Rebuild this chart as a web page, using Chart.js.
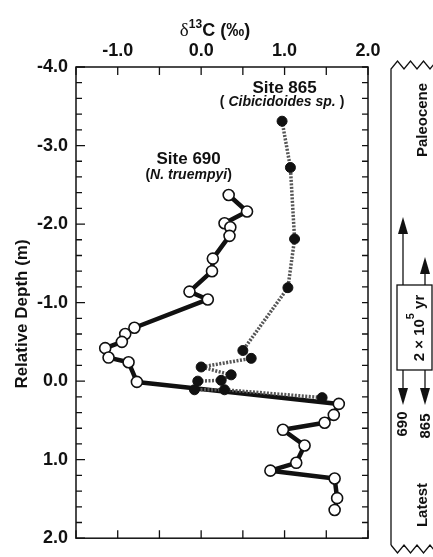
<!DOCTYPE html>
<html>
<head>
<meta charset="utf-8">
<script src="https://cdn.jsdelivr.net/npm/chart.js@4.4.1/dist/chart.umd.min.js"></script>
<style>
  html, body { margin: 0; padding: 0; background: #fff; }
  #wrap { width: 433px; height: 557px; position: relative; }
</style>
</head>
<body>
<div id="wrap"><canvas id="chart"></canvas></div>
<script>
// Site 690 (N. truempyi), open circles
const site690Carbon = [0.33, 0.55, 0.28, 0.35, 0.34, 0.14, 0.13, -0.14, 0.08, -0.80, -0.91, -0.95, -1.15,
  -1.11, -0.87, -0.77, 1.65, 1.59, 1.48, 0.98, 1.24, 1.14, 0.83, 1.60, 1.63, 1.60];
const site690Depth = [-2.37, -2.16, -2.01, -1.96, -1.85, -1.56, -1.40, -1.14, -1.04, -0.68, -0.60, -0.50, -0.42,
  -0.30, -0.24, 0.01, 0.29, 0.43, 0.53, 0.62, 0.82, 1.04, 1.14, 1.24, 1.49, 1.64];

// Site 865 (Cibicidoides sp.), filled circles
const site865Carbon = [0.97, 1.07, 1.12, 1.04, 0.50, 0.60, 0.00, 0.36, 0.24, -0.04, -0.08, 0.28, 1.45];
const site865Depth = [-3.31, -2.72, -1.81, -1.19, -0.39, -0.29, -0.18, -0.08, -0.01, 0.00, 0.11, 0.11, 0.21];

const xRange = [-1.5, 2.0];
const depthRange = [-4.0, 2.0];

const BOLD = '"Liberation Sans", Arial, Helvetica, sans-serif';

function pairs(xs, ys) {
    return xs.map((v, i) => ({ x: v, y: ys[i] }));
}

function isWhole(v) {
    return Math.abs(v - Math.round(v)) < 1e-6;
}

function vText(ctx, str, x, y, font) {
    ctx.save();
    ctx.translate(x, y);
    ctx.rotate(-Math.PI / 2);
    ctx.font = font;
    ctx.textAlign = 'center';
    ctx.textBaseline = 'middle';
    ctx.fillText(str, 0, 0);
    ctx.restore();
}

function arrow(ctx, x, y0, tip) {
    const dir = Math.sign(tip - y0);
    ctx.beginPath();
    ctx.moveTo(x, y0);
    ctx.lineTo(x, tip - dir * 12);
    ctx.stroke();
    ctx.beginPath();
    ctx.moveTo(x, tip);
    ctx.lineTo(x - 5, tip - dir * 17);
    ctx.lineTo(x + 5, tip - dir * 17);
    ctx.closePath();
    ctx.fill();
}

// draws text pieces one after another, centred on cx
function runText(ctx, parts, cx, cy) {
    let total = 0;
    parts.forEach(p => { ctx.font = p.font; total += ctx.measureText(p.text).width; });
    let x = cx - total / 2;
    ctx.textAlign = 'left';
    ctx.textBaseline = 'alphabetic';
    parts.forEach(p => {
        ctx.font = p.font;
        ctx.fillText(p.text, x, cy + (p.dy || 0));
        x += ctx.measureText(p.text).width;
    });
}

const frame = {
    id: 'frame',
    afterDraw(chart) {
        const { ctx, chartArea: a, scales: { x, y } } = chart;
        ctx.save();
        ctx.strokeStyle = '#111';
        ctx.fillStyle = '#111';
        ctx.lineWidth = 1.5;
        ctx.strokeRect(a.left, a.top, a.right - a.left, a.bottom - a.top);

        // inward tick marks
        ctx.lineWidth = 1.3;
        x.ticks.forEach(t => {
            const px = x.getPixelForValue(t.value);
            ctx.beginPath();
            ctx.moveTo(px, a.top); ctx.lineTo(px, a.top + 8);
            ctx.moveTo(px, a.bottom); ctx.lineTo(px, a.bottom - 8);
            ctx.stroke();
        });
        y.ticks.forEach(t => {
            const py = y.getPixelForValue(t.value);
            const len = isWhole(t.value) ? 9 : 6;
            ctx.beginPath();
            ctx.moveTo(a.left, py); ctx.lineTo(a.left + len, py);
            ctx.moveTo(a.right, py); ctx.lineTo(a.right - 6, py);
            ctx.stroke();
        });

        // axis titles
        runText(ctx, [
            { text: 'δ', font: '19px "Liberation Serif", serif' },
            { text: '13', font: 'bold 12px ' + BOLD, dy: -8 },
            { text: 'C (‰)', font: 'bold 18px ' + BOLD }
        ], 215, 36);
        vText(ctx, 'Relative Depth (m)', 22, 314, 'bold 17px ' + BOLD);

        // site labels
        ctx.textAlign = 'center';
        ctx.textBaseline = 'middle';
        ctx.font = 'bold 17px ' + BOLD;
        ctx.fillText('Site 865', x.getPixelForValue(1.0), y.getPixelForValue(-3.73));
        ctx.fillText('Site 690', x.getPixelForValue(-0.15), y.getPixelForValue(-2.82));
        runText(ctx, [
            { text: '( ', font: 'bold 14px ' + BOLD },
            { text: 'Cibicidoides sp.', font: 'italic bold 14px ' + BOLD },
            { text: ' )', font: 'bold 14px ' + BOLD }
        ], x.getPixelForValue(0.97), y.getPixelForValue(-3.5));
        runText(ctx, [
            { text: '(', font: 'bold 14px ' + BOLD },
            { text: 'N. truempyi', font: 'italic bold 14px ' + BOLD },
            { text: ')', font: 'bold 14px ' + BOLD }
        ], x.getPixelForValue(-0.15), y.getPixelForValue(-2.58));

        // stratigraphic column on the right
        const L = 391, R = 432, top = 69, bot = 545;
        ctx.lineWidth = 1.3;
        ctx.beginPath();
        ctx.moveTo(L, bot); ctx.lineTo(L, top);
        for (let i = 1, px = L; px < R + 6; i++) {
            px = L + i * 6.5;
            ctx.lineTo(px, i % 2 ? top - 8 : top);
        }
        ctx.stroke();
        ctx.beginPath();
        ctx.moveTo(L, bot);
        for (let i = 1, px = L; px < R + 6; i++) {
            px = L + i * 6.5;
            ctx.lineTo(px, i % 2 ? bot + 8 : bot);
        }
        ctx.stroke();

        const boxTop = 285, boxBot = 370;
        ctx.strokeRect(397, boxTop, R - 397, boxBot - boxTop);
        arrow(ctx, 403, boxTop, 217);
        arrow(ctx, 425, boxTop, 257);
        arrow(ctx, 403, boxBot, 405);
        arrow(ctx, 425, boxBot, 405);

        ctx.save();
        ctx.translate(419, 328);
        ctx.rotate(-Math.PI / 2);
        runText(ctx, [
            { text: '2 × 10', font: 'bold 15px ' + BOLD },
            { text: '5', font: 'bold 11px ' + BOLD, dy: -10 },
            { text: ' yr', font: 'bold 15px ' + BOLD }
        ], 0, 5);
        ctx.restore();

        const f = 'bold 15px ' + BOLD;
        vText(ctx, 'Paleocene', 423, 120, f);
        vText(ctx, '690', 403, 424, f);
        vText(ctx, '865', 426, 426, f);
        vText(ctx, 'Latest', 423, 505, f);
        ctx.restore();
    }
};

const tickFont = { family: BOLD, size: 18, weight: 'bold' };

new Chart(document.getElementById('chart'), {
    type: 'scatter',
    data: {
        datasets: [
            {
                label: 'Site 865',
                data: pairs(site865Carbon, site865Depth),
                showLine: true,
                borderColor: '#555',
                borderWidth: 3.5,
                borderDash: [2, 1.5],
                pointRadius: 5,
                pointBackgroundColor: '#111',
                pointBorderColor: '#111',
                pointBorderWidth: 1,
                order: 0
            },
            {
                label: 'Site 690',
                data: pairs(site690Carbon, site690Depth),
                showLine: true,
                borderColor: '#111',
                borderWidth: 4.5,
                borderJoinStyle: 'round',
                pointRadius: 5.5,
                pointBackgroundColor: '#fff',
                pointBorderColor: '#111',
                pointBorderWidth: 1.6,
                order: 1
            }
        ]
    },
    options: {
        responsive: true,
        maintainAspectRatio: false,
        animation: false,
        layout: { padding: { left: 0, top: 0, right: 65, bottom: 9 } },
        plugins: {
            legend: { display: false },
            tooltip: { enabled: false }
        },
        scales: {
            x: {
                type: 'linear',
                position: 'top',
                min: xRange[0],
                max: xRange[1],
                grid: { display: false, drawTicks: false },
                border: { display: false },
                ticks: {
                    stepSize: 0.5,
                    autoSkip: false,
                    maxRotation: 0,
                    padding: 5,
                    color: '#111',
                    font: tickFont,
                    callback: v => isWhole(v) ? v.toFixed(1) : ''
                },
                afterFit: s => { s.height = 67; }
            },
            y: {
                type: 'linear',
                reverse: true,
                min: depthRange[0],
                max: depthRange[1],
                grid: { display: false, drawTicks: false },
                border: { display: false },
                ticks: {
                    stepSize: 0.2,
                    autoSkip: false,
                    padding: 8,
                    color: '#111',
                    font: tickFont,
                    callback: v => isWhole(v) ? v.toFixed(1) : ''
                },
                afterFit: s => { s.width = 76; }
            }
        }
    },
    plugins: [frame]
});
</script>
</body>
</html>
